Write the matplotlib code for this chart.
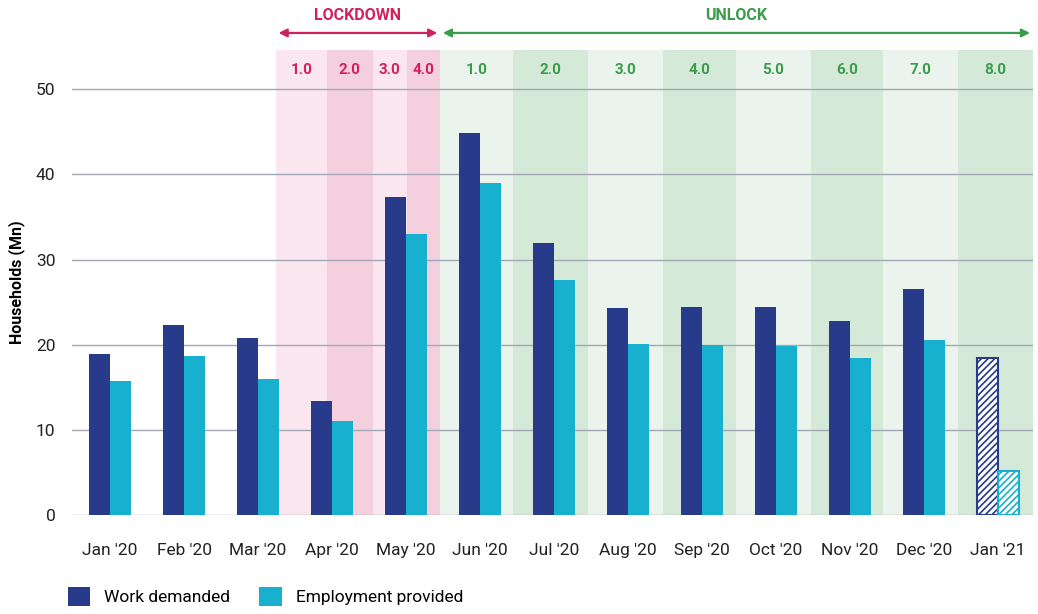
import numpy as np
import matplotlib.pyplot as plt

plt.rcParams['font.family'] = ['Roboto', 'DejaVu Sans']

months = ["Jan '20", "Feb '20", "Mar '20", "Apr '20", "May '20", "Jun '20", "Jul '20",
          "Aug '20", "Sep '20", "Oct '20", "Nov '20", "Dec '20", "Jan '21"]
work_demanded = [18.9, 22.3, 20.8, 13.4, 37.3, 44.8, 31.9, 24.3, 24.4, 24.4, 22.8, 26.5, 18.4]
employment_provided = [15.7, 18.7, 16.0, 11.0, 33.0, 39.0, 27.6, 20.1, 20.0, 19.8, 18.4, 20.5, 5.2]

# phase bands (edges in category units)
lockdown_edges = [2.24, 2.93, 3.55, 4.01, 4.46]
lockdown_labels = ['1.0', '2.0', '3.0', '4.0']
unlock_edges = [4.46, 5.45, 6.46, 7.47, 8.46, 9.47, 10.45, 11.46, 12.47]
unlock_labels = ['1.0', '2.0', '3.0', '4.0', '5.0', '6.0', '7.0', '8.0']

dark = '#283a8a'
cyan = '#17b0cf'
pink_txt = '#d0215f'
green_txt = '#3b9c4c'
pinks = ['#fae6ee', '#f4d0de']
greens = ['#eaf4ec', '#d5e9d9']

fig = plt.figure(figsize=(10.38, 6.14), dpi=100)
ax = fig.add_axes([0.0694, 0.1612, 0.9258, 0.7574])

ymax = 54.6
for i, lab in enumerate(lockdown_labels):
    a, b = lockdown_edges[i], lockdown_edges[i + 1]
    ax.axvspan(a, b, color=pinks[i % 2], lw=0, zorder=0)
    ax.text((a + b) / 2, 52.3, lab, ha='center', va='center', color=pink_txt,
            fontsize=11, fontweight='bold')
for i, lab in enumerate(unlock_labels):
    a, b = unlock_edges[i], unlock_edges[i + 1]
    ax.axvspan(a, b, color=greens[i % 2], lw=0, zorder=0)
    ax.text((a + b) / 2, 52.3, lab, ha='center', va='center', color=green_txt,
            fontsize=11, fontweight='bold')

ax.set_ylim(0, ymax)
ax.set_xlim(-0.514, 12.473)
ax.set_yticks([0, 10, 20, 30, 40, 50])
ax.grid(axis='y', color='#a3a7b3', lw=1, zorder=1)
ax.set_axisbelow(True)

x = np.arange(len(months))
w = 0.285
n = len(months) - 1
ax.bar(x[:n] - w / 2, work_demanded[:n], w, color=dark, zorder=3, label='Work demanded')
ax.bar(x[:n] + w / 2, employment_provided[:n], w, color=cyan, zorder=3, label='Employment provided')
plt.rcParams['hatch.linewidth'] = 1.2
ax.bar(x[n] - w / 2, work_demanded[n], w, facecolor='white', edgecolor=dark, hatch='/////', lw=1.5, zorder=3)
ax.bar(x[n] + w / 2, employment_provided[n], w, facecolor='white', edgecolor=cyan, hatch='/////', lw=1.5, zorder=3)

ax.set_xticks(x)
ax.set_xticklabels(months, fontsize=12.5, color='#222222')
ax.tick_params(axis='both', length=0, labelsize=12.5, colors='#222222')
ax.tick_params(axis='x', pad=20)
ax.tick_params(axis='y', pad=12)
for s in ax.spines.values():
    s.set_visible(False)
ax.set_ylabel('Households (Mn)', fontsize=11.5, fontweight='bold', labelpad=8)

# phase arrows
ax.annotate('', xy=(lockdown_edges[0], 56.6), xytext=(lockdown_edges[-1], 56.6),
            arrowprops=dict(arrowstyle='<|-|>', color=pink_txt, lw=1.6, mutation_scale=12),
            annotation_clip=False)
ax.annotate('', xy=(unlock_edges[0], 56.6), xytext=(unlock_edges[-1], 56.6),
            arrowprops=dict(arrowstyle='<|-|>', color=green_txt, lw=1.6, mutation_scale=12),
            annotation_clip=False)
ax.text((lockdown_edges[0] + lockdown_edges[-1]) / 2, 58.6, 'LOCKDOWN', ha='center', va='center',
        color=pink_txt, fontsize=11.5, fontweight='bold', clip_on=False)
ax.text((unlock_edges[0] + unlock_edges[-1]) / 2, 58.6, 'UNLOCK', ha='center', va='center',
        color=green_txt, fontsize=11.5, fontweight='bold', clip_on=False)

fig.legend(loc='lower left', bbox_to_anchor=(0.05, -0.012), ncol=2, frameon=False,
           fontsize=12.5, handlelength=1.3, handleheight=1.3, columnspacing=1.7, handletextpad=0.8)

fig.savefig('out.png', dpi=100)
